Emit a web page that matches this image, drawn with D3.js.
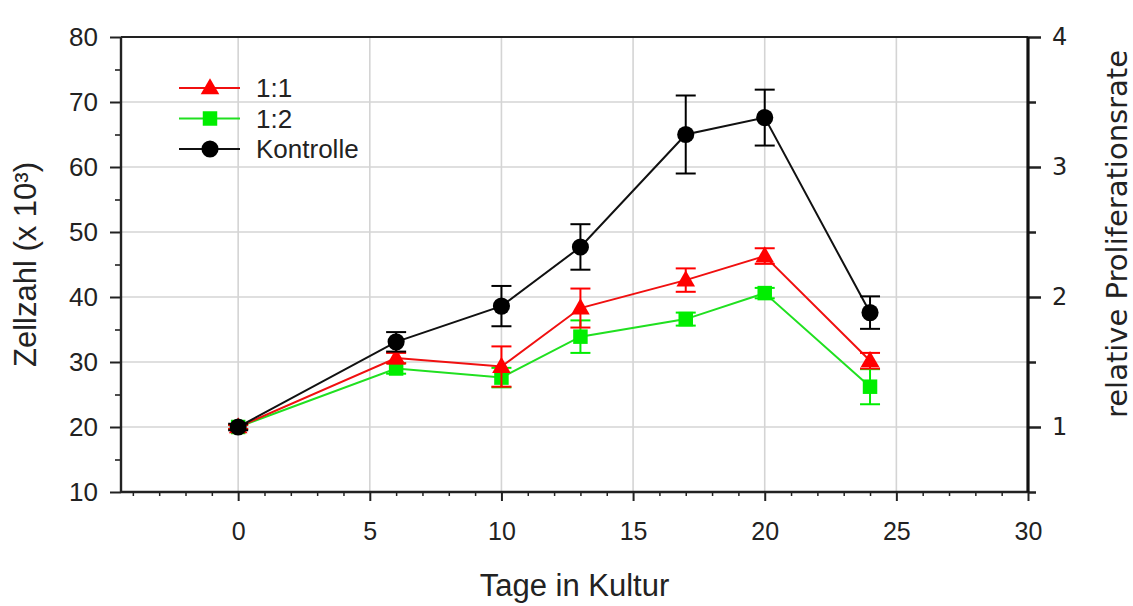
<!DOCTYPE html>
<html><head><meta charset="utf-8">
<script src="https://cdn.jsdelivr.net/npm/d3@7"></script>
<style>
html,body{margin:0;padding:0;background:#fff;}
svg{display:block;}
text{font-family:"Liberation Sans",Arial,sans-serif;fill:#222;}
</style></head>
<body>
<script>
const days = [0, 6, 10, 13, 17, 20, 24];
const seriesNames = ["1:2", "1:1", "Kontrolle"];
const legendOrder = ["1:1", "1:2", "Kontrolle"];
const kontrolle = [20, 33.1, 38.6, 47.7, 65.0, 67.6, 37.6];
const kontrolleErr = [0.5, 1.5, 3.1, 3.5, 6.0, 4.3, 2.5];
const r11 = [20, 30.6, 29.3, 38.3, 42.6, 46.3, 30.2];
const r11Err = [0.3, 0.8, 3.1, 3.0, 1.8, 1.2, 1.2];
const r12 = [20, 29.0, 27.6, 33.9, 36.6, 40.6, 26.2];
const r12Err = [0.3, 0.8, 1.5, 2.5, 1.0, 0.8, 2.7];
const xTicks = [0, 5, 10, 15, 20, 25, 30];
const xMinor = [-4,-3,-2,-1,1,2,3,4,6,7,8,9,11,12,13,14,16,17,18,19,21,22,23,24,26,27,28,29];
const yTicks = [10, 20, 30, 40, 50, 60, 70, 80];
const yMinor = [15, 25, 35, 45, 55, 65, 75];
const yRTicks = [1, 2, 3, 4];
const yRMinor = [0.5, 1.5, 2.5, 3.5];
const xTitle = "Tage in Kultur";
const yTitle = "Zellzahl (x 10³)";
const yRTitle = "relative Proliferationsrate";

const W = 1133, H = 606;
const svg = d3.select("body").append("svg").attr("width", W).attr("height", H);

const x = d3.scaleLinear().domain([-4.45, 30]).range([121, 1028]);
const y = d3.scaleLinear().domain([10, 80]).range([492, 37]);
const yR = d3.scaleLinear().domain([0.5, 4]).range([492, 37]);

const series = {
  "1:1": {vals: r11, err: r11Err, color: "#ff0000", line: "#f01010", shape: d3.symbolTriangle, size: 150},
  "1:2": {vals: r12, err: r12Err, color: "#00ee00", line: "#20e020", shape: d3.symbolSquare, size: 210},
  "Kontrolle": {vals: kontrolle, err: kontrolleErr, color: "#000000", line: "#111111", shape: d3.symbolCircle, size: 230}
};

const grid = svg.append("g");
grid.selectAll("line.v").data(xTicks.filter(d => d < 30)).enter().append("line")
  .attr("x1", d => x(d)).attr("x2", d => x(d)).attr("y1", y(80)).attr("y2", y(10))
  .attr("stroke", "#d4d4d4").attr("stroke-width", 1.6);
grid.selectAll("line.h").data(yTicks.filter(d => d > 10 && d < 80)).enter().append("line")
  .attr("x1", x(-4.45)).attr("x2", x(30)).attr("y1", d => y(d)).attr("y2", d => y(d))
  .attr("stroke", "#d4d4d4").attr("stroke-width", 1.6);

function styleAxis(g, w) {
  g.select(".domain").remove();
  g.selectAll(".tick line").attr("stroke", "#222").attr("stroke-width", w);
}
const gL = svg.append("g").attr("transform", `translate(${x(-4.45)},0)`)
  .call(d3.axisLeft(y).tickValues(yTicks).tickSize(11).tickPadding(12).tickSizeOuter(0));
styleAxis(gL, 2);
gL.selectAll("text").attr("font-size", 26).attr("fill", "#2a2a2a").style("font-family", '"Liberation Sans", Arial, sans-serif');
const gLm = svg.append("g").attr("transform", `translate(${x(-4.45)},0)`)
  .call(d3.axisLeft(y).tickValues(yMinor).tickSize(6).tickFormat("").tickSizeOuter(0));
styleAxis(gLm, 1.6);

const gB = svg.append("g").attr("transform", `translate(0,${y(10)})`)
  .call(d3.axisBottom(x).tickValues(xTicks).tickSize(9).tickPadding(21).tickSizeOuter(0));
styleAxis(gB, 2);
gB.selectAll("text").attr("font-size", 25).attr("fill", "#2a2a2a").style("font-family", '"Liberation Sans", Arial, sans-serif');
const gBm = svg.append("g").attr("transform", `translate(0,${y(10)})`)
  .call(d3.axisBottom(x).tickValues(xMinor).tickSize(4).tickFormat("").tickSizeOuter(0));
styleAxis(gBm, 1.5);

const gR = svg.append("g").attr("transform", `translate(${x(30)},0)`)
  .call(d3.axisRight(yR).tickValues(yRTicks).tickFormat(d3.format("d")).tickSize(13).tickPadding(11).tickSizeOuter(0));
styleAxis(gR, 2.5);
gR.selectAll("text").attr("font-size", 24).attr("fill", "#2a2a2a").style("font-family", '"DejaVu Sans", Verdana, sans-serif');
const gRm = svg.append("g").attr("transform", `translate(${x(30)},0)`)
  .call(d3.axisRight(yR).tickValues(yRMinor).tickSize(8).tickFormat("").tickSizeOuter(0));
styleAxis(gRm, 2.5);

svg.append("line").attr("x1", x(-4.45)).attr("x2", x(-4.45)).attr("y1", y(80)).attr("y2", y(10)).attr("stroke", "#222").attr("stroke-width", 2.4);
svg.append("line").attr("x1", x(-4.45)).attr("x2", x(30)).attr("y1", y(10)).attr("y2", y(10)).attr("stroke", "#222").attr("stroke-width", 2.4);
svg.append("line").attr("x1", x(-4.45)).attr("x2", x(30)).attr("y1", y(80)).attr("y2", y(80)).attr("stroke", "#222").attr("stroke-width", 2.2);
svg.append("line").attr("x1", x(30)).attr("x2", x(30)).attr("y1", yR(4)).attr("y2", yR(0.5)).attr("stroke", "#111").attr("stroke-width", 3.2);

const line = d3.line().x(d => x(d[0])).y(d => y(d[1]));
seriesNames.forEach(name => {
  const s = series[name];
  const pts = days.map((d, i) => [d, s.vals[i], s.err[i]]);
  const g = svg.append("g");
  g.append("path").attr("d", line(pts)).attr("fill", "none").attr("stroke", s.line).attr("stroke-width", 2);
  const eb = g.selectAll("g.eb").data(pts).enter().append("g");
  eb.append("line").attr("x1", d => x(d[0])).attr("x2", d => x(d[0]))
    .attr("y1", d => y(d[1] - d[2])).attr("y2", d => y(d[1] + d[2]))
    .attr("stroke", s.color).attr("stroke-width", 2);
  [-1, 1].forEach(sign => {
    eb.append("line").attr("x1", d => x(d[0]) - 10).attr("x2", d => x(d[0]) + 10)
      .attr("y1", d => y(d[1] + sign * d[2])).attr("y2", d => y(d[1] + sign * d[2]))
      .attr("stroke", s.color).attr("stroke-width", 2);
  });
  g.selectAll("path.m").data(pts).enter().append("path")
    .attr("d", d3.symbol().type(s.shape).size(s.size))
    .attr("transform", d => `translate(${x(d[0])},${y(d[1]) + (s.shape === d3.symbolTriangle ? 1 : 0)})`)
    .attr("fill", s.color);
});

const lg = svg.append("g");
legendOrder.forEach((name, i) => {
  const s = series[name];
  const ly = 88 + i * 30.5;
  lg.append("line").attr("x1", 179).attr("x2", 240).attr("y1", ly).attr("y2", ly).attr("stroke", s.line).attr("stroke-width", 2);
  lg.append("path").attr("d", d3.symbol().type(s.shape).size(s.size)).attr("transform", `translate(210,${ly + (s.shape === d3.symbolTriangle ? 1 : 0)})`).attr("fill", s.color);
  lg.append("text").attr("x", 256).attr("y", ly).attr("dy", "0.36em").attr("font-size", 26).attr("fill", "#2a2a2a").text(name);
});

svg.append("text").attr("x", (x(-4.45) + x(30)) / 2).attr("y", 596).attr("text-anchor", "middle")
  .attr("font-size", 31).attr("fill", "#2a2a2a").text(xTitle);
svg.append("text").attr("transform", `translate(36,${(y(10) + y(80)) / 2}) rotate(-90)`).attr("text-anchor", "middle")
  .attr("font-size", 31).attr("fill", "#2a2a2a").text(yTitle);
svg.append("text").attr("transform", `translate(1127,234) rotate(-90)`).attr("text-anchor", "middle")
  .attr("font-size", 29).attr("fill", "#2a2a2a").style("font-family", '"DejaVu Sans", Verdana, sans-serif').text(yRTitle);
</script>
</body></html>
